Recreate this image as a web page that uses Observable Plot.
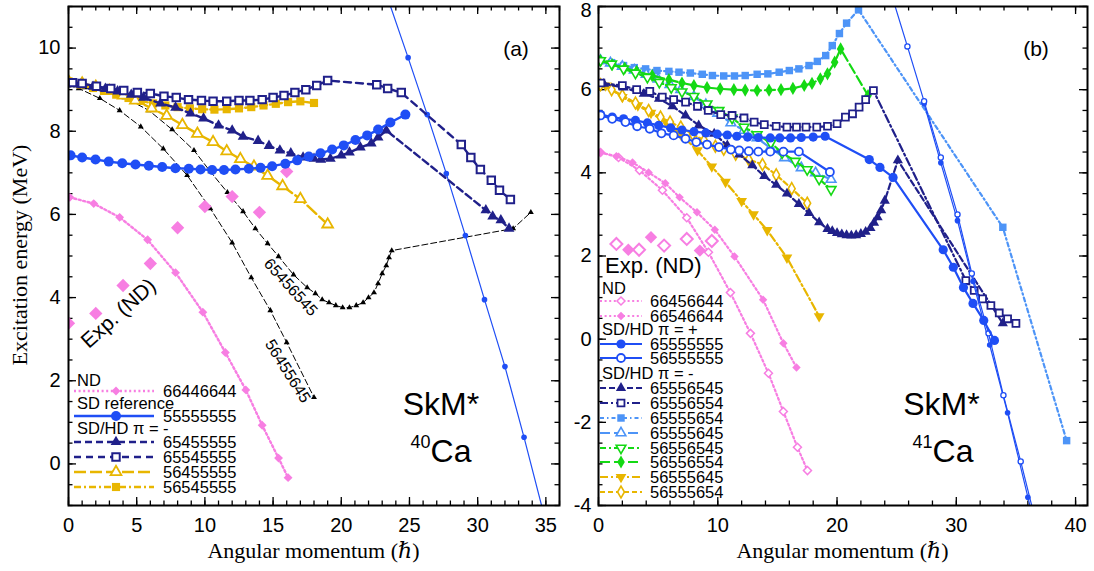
<!DOCTYPE html>
<html>
<head>
<meta charset="utf-8">
<script src="https://cdn.jsdelivr.net/npm/d3@7"></script>
<script src="https://cdn.jsdelivr.net/npm/@observablehq/plot@0.6"></script>
<style>
html,body{margin:0;padding:0;background:#fff;}
#wrap{display:flex;width:1094px;height:571px;overflow:hidden;}
#wrap svg{display:block;flex:none;max-width:none;}
</style>
</head>
<body>
<div id="wrap"></div>
<script>
// ================= Panel (a): 40Ca =================
const A_XTICKS = [0, 5, 10, 15, 20, 25, 30, 35];
const A_YTICKS = [0, 2, 4, 6, 8, 10];

// ND 66446644
const A_ND_J = [0.1, 1.85, 3.75, 5.8, 7.85, 9.85, 11.5, 13.0, 14.2, 15.4, 16.1];
const A_ND_E = [6.41, 6.26, 5.93, 5.39, 4.6, 3.65, 2.68, 1.78, 0.93, 0.14, -0.33];
// Exp. (ND)
const A_EXP_J = [0, 2, 4, 6, 8, 10, 12, 14, 16];
const A_EXP_E = [3.38, 3.62, 4.29, 4.82, 5.68, 6.19, 6.43, 6.05, 7.03];
// SD reference 55555555
const A_SD_J = [0.15, 1.0, 1.98, 2.95, 3.94, 4.91, 5.89, 6.87, 7.84, 8.82, 9.68, 10.53, 11.4, 12.24, 13.22, 14.08, 14.93, 15.9, 16.77, 17.62, 18.48, 19.33, 20.18, 21.04, 21.9, 22.7, 23.6, 24.7];
const A_SD_E = [7.42, 7.37, 7.32, 7.27, 7.23, 7.2, 7.17, 7.14, 7.11, 7.1, 7.08, 7.07, 7.07, 7.08, 7.1, 7.12, 7.16, 7.22, 7.3, 7.39, 7.47, 7.56, 7.66, 7.79, 7.9, 8.04, 8.21, 8.4];
// SD crossing branch (thin)
const A_SDX_J = [23.3, 24.9, 26.3, 27.7, 29.1, 30.5, 32.0, 33.4, 35.0];
const A_SDX_E = [11.3, 9.77, 8.4, 6.98, 5.49, 3.95, 2.34, 0.64, -1.4];
// 65455555
const A_T_J = [0, 0.9, 1.8, 2.7, 3.6, 4.6, 5.5, 6.75, 7.85, 8.95, 9.9, 11.0, 12.0, 12.8, 13.9, 14.7, 15.5, 16.3, 17.2, 18.0, 18.5, 19.2, 20.0, 20.6, 21.4, 22.2, 22.7, 23.3, 30.6, 31.1, 31.7, 32.3];
const A_T_E = [9.15, 9.12, 9.07, 9.02, 8.96, 8.88, 8.81, 8.67, 8.57, 8.43, 8.31, 8.14, 8.02, 7.87, 7.77, 7.65, 7.54, 7.47, 7.37, 7.34, 7.32, 7.34, 7.42, 7.49, 7.61, 7.71, 7.85, 8.02, 6.1, 5.95, 5.86, 5.66];
// 65545555
const A_S_J = [0.3, 1.0, 2.05, 3.1, 4.05, 5.05, 6.0, 7.0, 7.9, 8.8, 9.75, 10.6, 11.6, 12.5, 13.3, 14.2, 15.0, 15.8, 16.6, 17.4, 18.2, 19.0, 22.6, 23.4, 24.4, 28.8, 29.5, 30.2, 31.0, 31.6, 32.4];
const A_S_E = [9.17, 9.15, 9.08, 9.03, 8.98, 8.93, 8.91, 8.84, 8.81, 8.76, 8.74, 8.72, 8.72, 8.74, 8.74, 8.76, 8.81, 8.86, 8.93, 9.0, 9.1, 9.22, 9.12, 9.03, 8.93, 7.68, 7.37, 7.08, 6.82, 6.58, 6.36];
// 56455555
const A_OT_J = [0, 1.0, 2.0, 3.0, 4.0, 4.9, 6.1, 7.2, 8.35, 9.45, 10.6, 11.6, 12.6, 13.6, 14.6, 15.7, 17.0, 19.0];
const A_OT_E = [9.2, 9.15, 9.07, 8.97, 8.86, 8.74, 8.55, 8.37, 8.15, 7.94, 7.74, 7.52, 7.33, 7.15, 6.93, 6.68, 6.37, 5.76];
// 56545555
const A_FS_J = [0, 0.9, 1.8, 2.6, 3.5, 4.4, 5.3, 6.2, 7.1, 8.0, 8.9, 9.8, 10.7, 11.6, 12.5, 13.4, 14.3, 15.2, 16.1, 17.0, 18.0];
const A_FS_E = [9.2, 9.12, 9.04, 8.97, 8.88, 8.8, 8.73, 8.67, 8.62, 8.58, 8.55, 8.53, 8.52, 8.53, 8.55, 8.58, 8.62, 8.66, 8.7, 8.72, 8.68];
// 56455645 (black)
const A_BL1_J = [0, 0.75, 2.3, 3.75, 5.3, 6.95, 8.7, 10.4, 12.0, 13.4, 14.8, 16.0, 18.0];
const A_BL1_E = [9.1, 9.03, 8.79, 8.5, 8.11, 7.58, 6.94, 6.14, 5.32, 4.48, 3.69, 2.92, 1.6];
// 65456545 (black)
const A_BL2_J = [0, 1.2, 2.6, 4.1, 5.9, 7.6, 9.2, 10.4, 11.65, 12.8, 13.7, 14.6, 15.4, 16.5, 17.5, 18.1, 18.6, 19.1, 19.6, 20.1, 20.6, 21.1, 21.6, 22.0, 22.4, 22.7, 23.0, 23.3, 23.5, 23.7, 32.6, 33.9];
const A_BL2_E = [9.1, 9.05, 8.95, 8.81, 8.5, 8.04, 7.54, 7.03, 6.53, 6.07, 5.66, 5.3, 4.99, 4.55, 4.24, 4.1, 3.95, 3.88, 3.81, 3.76, 3.76, 3.81, 3.88, 4.0, 4.12, 4.34, 4.58, 4.77, 4.96, 5.13, 5.66, 6.05];

// ================= Panel (b): 41Ca =================
const B_XTICKS = [0, 10, 20, 30, 40];
const B_YTICKS = [-4, -2, 0, 2, 4, 6];
const B_YTOP = [8];

const B_ND1_J = [0.17, 1.68, 3.44, 5.36, 7.4, 9.22, 11.06, 12.74, 14.25, 15.5, 16.68, 17.52];
const B_ND1_E = [4.49, 4.37, 4.06, 3.58, 2.92, 2.09, 1.12, 0.14, -0.82, -1.74, -2.6, -3.16];
const B_ND2_J = [0.17, 1.5, 2.85, 4.2, 5.6, 6.8, 8.26, 9.75, 11.4, 13.8, 15.5, 16.6];
const B_ND2_E = [4.49, 4.4, 4.25, 4.01, 3.75, 3.41, 3.05, 2.63, 1.99, 0.95, -0.1, -0.68];
const B_EXPO_J = [1.5, 3.4, 5.5, 7.4, 9.5];
const B_EXPO_E = [2.29, 2.15, 2.25, 2.41, 2.36];
const B_EXPF_J = [2.5, 4.4, 8.5];
const B_EXPF_E = [2.15, 2.45, 2.13];
// 65555555
const B_P1_J = [0.17, 1.15, 2.1, 3.1, 4.1, 5.05, 6.05, 7.0, 8.0, 9.0, 9.95, 10.8, 11.6, 12.5, 13.4, 14.4, 15.2, 16.1, 17.0, 18.0, 19.0, 22.7, 23.6, 24.7, 28.9, 29.75, 30.6, 31.4, 32.3, 33.2];
const B_P1_E = [5.4, 5.34, 5.3, 5.26, 5.2, 5.14, 5.08, 5.03, 4.99, 4.96, 4.93, 4.91, 4.88, 4.86, 4.85, 4.84, 4.84, 4.84, 4.85, 4.86, 4.88, 4.32, 4.13, 3.89, 2.15, 1.73, 1.24, 0.86, 0.45, -0.03];
// 56555555
const B_P2_J = [0.17, 1.15, 2.26, 3.24, 4.3, 5.28, 6.3, 7.3, 8.2, 9.1, 10.1, 11.1, 11.8, 12.6, 13.4, 14.4, 15.5, 16.8, 19.4];
const B_P2_E = [5.38, 5.3, 5.22, 5.12, 5.06, 4.95, 4.9, 4.82, 4.74, 4.68, 4.62, 4.56, 4.54, 4.52, 4.51, 4.51, 4.51, 4.51, 4.02];
// crossing branches (thin)
const B_XO_J = [24.5, 25.9, 27.3, 28.7, 30.1, 31.3, 32.7, 33.95, 35.4, 36.8];
const B_XO_E = [8.35, 7.04, 5.72, 4.37, 3.0, 1.58, 0.14, -1.35, -2.94, -4.55];
const B_XF_J = [27.3, 28.7, 30.1, 31.4, 32.8, 34.3, 36.0, 36.6];
const B_XF_E = [5.66, 4.24, 2.85, 1.39, -0.14, -1.77, -3.8, -4.5];
// 65556545
const B_N1_J = [0.45, 2.1, 3.8, 5.07, 6.2, 7.3, 8.4, 9.7, 10.8, 11.8, 12.9, 13.9, 14.9, 15.8, 16.8, 17.65, 18.5, 19.2, 19.6, 20.0, 20.4, 20.8, 21.2, 21.6, 22.0, 22.4, 22.8, 23.1, 23.4, 23.7, 24.0, 25.1, 33.9];
const B_N1_E = [6.14, 6.05, 5.9, 5.78, 5.6, 5.38, 5.14, 4.94, 4.66, 4.44, 4.18, 3.92, 3.71, 3.5, 3.25, 3.03, 2.81, 2.65, 2.6, 2.55, 2.52, 2.5, 2.49, 2.5, 2.53, 2.58, 2.67, 2.8, 2.93, 3.1, 3.33, 4.3, 0.38];
// 65556554
const B_N2_J = [0.2, 2.0, 3.2, 4.3, 5.35, 6.3, 7.3, 8.3, 9.2, 10.25, 11.2, 12.2, 13.05, 13.9, 14.9, 15.8, 16.6, 17.4, 18.3, 19.2, 20.0, 20.7, 21.3, 21.85, 22.4, 23.05, 30.8, 31.5, 32.2, 32.9, 33.6, 34.3, 35.0];
const B_N2_E = [6.16, 6.1, 6.0, 5.96, 5.82, 5.76, 5.7, 5.6, 5.5, 5.4, 5.38, 5.32, 5.22, 5.16, 5.12, 5.1, 5.1, 5.1, 5.1, 5.12, 5.18, 5.34, 5.42, 5.58, 5.76, 5.98, 1.41, 1.17, 0.97, 0.81, 0.63, 0.49, 0.38];
// 65555654
const B_L1_J = [0.17, 1.1, 2.1, 3.0, 3.95, 4.9, 5.9, 6.75, 7.7, 8.7, 9.55, 10.5, 11.4, 12.3, 13.3, 14.2, 15.15, 16.0, 16.8, 17.65, 18.35, 19.05, 19.6, 20.2, 20.8, 21.8, 33.9, 39.25];
const B_L1_E = [6.7, 6.65, 6.58, 6.53, 6.5, 6.46, 6.44, 6.42, 6.4, 6.37, 6.34, 6.33, 6.33, 6.34, 6.37, 6.38, 6.42, 6.46, 6.5, 6.58, 6.68, 6.82, 7.06, 7.35, 7.6, 7.92, 2.69, -2.44];
// 65555645
const B_L2_J = [0.17, 1.0, 2.0, 3.0, 4.0, 5.0, 6.0, 6.9, 8.0, 9.0, 10.0, 11.1, 12.2, 13.3, 14.4, 15.6, 17.0, 18.2, 19.5];
const B_L2_E = [6.7, 6.64, 6.56, 6.47, 6.37, 6.25, 6.12, 6.0, 5.83, 5.64, 5.43, 5.2, 5.02, 4.84, 4.6, 4.36, 4.12, 4.0, 3.84];
// 56556545
const B_G1_J = [0.17, 1.1, 2.1, 3.1, 4.1, 5.1, 6.1, 7.0, 8.0, 9.1, 10.1, 11.2, 12.2, 13.3, 14.45, 15.4, 16.5, 17.5, 18.5, 19.5];
const B_G1_E = [6.7, 6.62, 6.5, 6.4, 6.3, 6.18, 6.05, 5.95, 5.84, 5.66, 5.5, 5.32, 5.1, 4.92, 4.72, 4.48, 4.28, 4.08, 3.85, 3.6];
// 56556554
const B_G2_J = [0.17, 1.15, 2.2, 3.2, 4.5, 5.9, 7.0, 8.0, 9.1, 10.2, 11.35, 12.3, 13.3, 14.3, 15.3, 16.3, 17.25, 17.9, 18.6, 19.2, 19.8, 20.3, 22.6];
const B_G2_E = [6.7, 6.6, 6.52, 6.44, 6.34, 6.24, 6.16, 6.1, 6.05, 6.02, 6.0, 5.99, 5.98, 5.99, 6.0, 6.03, 6.1, 6.15, 6.26, 6.38, 6.66, 6.98, 5.86];
// 56555645
const B_Y1_J = [0.6, 2.0, 3.3, 4.4, 5.7, 6.9, 8.3, 9.5, 10.65, 12.0, 13.0, 14.15, 15.8, 18.5];
const B_Y1_E = [6.1, 5.82, 5.62, 5.44, 5.2, 4.92, 4.54, 4.15, 3.78, 3.32, 3.0, 2.62, 1.96, 0.55];
// 56555654
const B_Y2_J = [0.17, 1.1, 2.0, 3.1, 4.2, 5.2, 6.0, 6.9, 7.9, 8.85, 9.8, 10.5, 11.5, 12.6, 13.75, 14.9, 16.2, 17.5];
const B_Y2_E = [6.12, 6.0, 5.86, 5.68, 5.5, 5.34, 5.22, 5.1, 4.93, 4.78, 4.64, 4.57, 4.45, 4.32, 4.2, 3.95, 3.62, 3.27];

// ================= styling =================
const C = {pink: "#f77ee2", blue: "#1f4ef5", navy: "#20208a", gold: "#e8b600", lblue: "#4d94f7", green: "#14d914", black: "#000"};
const triDown = {draw(ctx, size) {
  const y = -Math.sqrt(size / (Math.sqrt(3) * 3));
  ctx.moveTo(0, -y * 2); ctx.lineTo(-Math.sqrt(3) * y, y); ctx.lineTo(Math.sqrt(3) * y, y); ctx.closePath();
}};
const SANS = "'Liberation Sans', Arial, Helvetica, sans-serif";
const SERIF = "'Liberation Serif', 'Times New Roman', 'DejaVu Serif', serif";
const fmt = d => (d < 0 ? "-" + (-d) : String(d));

function seriesMarks(s) {
  const data = s.J.map((x, i) => ({x, y: s.E[i]}));
  const out = [];
  if (s.line !== false) {
    const o = {x: "x", y: "y", stroke: s.color, strokeWidth: s.width, clip: true};
    if (s.dash) o.strokeDasharray = s.dash;
    out.push(Plot.line(data, o));
  }
  if (s.sym) {
    out.push(Plot.dot(data, {x: "x", y: "y", symbol: s.sym, r: s.r,
      fill: s.open ? "white" : s.color, stroke: s.open ? s.color : "none",
      strokeWidth: s.open ? (s.sw || 1.6) : 0, clip: true}));
  }
  return out;
}

function tickMarks(xd, yd, W, H, xMaj, xMin, yMaj, yMin) {
  const ky = (yd[1] - yd[0]) / H, kx = (xd[1] - xd[0]) / W;
  const L = 8, l = 4.5;
  const o = {stroke: "black", strokeWidth: 1.3};
  return [
    Plot.ruleX(xMaj, {...o, x: d => d, y1: yd[0], y2: yd[0] + L * ky}),
    Plot.ruleX(xMaj, {...o, x: d => d, y1: yd[1], y2: yd[1] - L * ky}),
    Plot.ruleX(xMin, {...o, x: d => d, y1: yd[0], y2: yd[0] + l * ky}),
    Plot.ruleX(xMin, {...o, x: d => d, y1: yd[1], y2: yd[1] - l * ky}),
    Plot.ruleY(yMaj, {...o, y: d => d, x1: xd[0], x2: xd[0] + L * kx}),
    Plot.ruleY(yMaj, {...o, y: d => d, x1: xd[1], x2: xd[1] - L * kx}),
    Plot.ruleY(yMin, {...o, y: d => d, x1: xd[0], x2: xd[0] + l * kx}),
    Plot.ruleY(yMin, {...o, y: d => d, x1: xd[1], x2: xd[1] - l * kx})
  ];
}

function label(g, x, y, s, fs, anchor, family) {
  return g.append("text").attr("x", x).attr("y", y).attr("text-anchor", anchor || "start")
    .attr("font-family", family || SANS).attr("font-size", fs).attr("fill", "black").text(s);
}
function legendRow(g, s, x0, x1, xm, xl, y, text, fs) {
  const ln = g.append("line").attr("x1", x0).attr("x2", x1).attr("y1", y).attr("y2", y)
    .attr("stroke", s.color).attr("stroke-width", s.width);
  if (s.dash) ln.attr("stroke-dasharray", s.dash);
  g.append("path").attr("transform", `translate(${xm},${y})`)
    .attr("d", d3.symbol(s.sym, Math.PI * s.r * s.r)())
    .attr("fill", s.open ? "white" : s.color)
    .attr("stroke", s.open ? s.color : "none")
    .attr("stroke-width", s.open ? (s.sw || 1.6) : 0);
  label(g, xl, y, text, fs).attr("dy", "0.36em");
}
function header(g, x, y, text, fs) {
  label(g, x, y, text, fs).attr("dy", "0.36em");
}

// ---------- series specs panel (a) ----------
const sA = {
  nd:  {J: A_ND_J, E: A_ND_E, color: C.pink, width: 2.4, dash: "2,2.6", sym: d3.symbolDiamond2, r: 4},
  exp: {J: A_EXP_J, E: A_EXP_E, color: C.pink, line: false, sym: d3.symbolDiamond2, r: 6},
  sd:  {J: A_SD_J, E: A_SD_E, color: C.blue, width: 2.4, sym: d3.symbolCircle, r: 5},
  sdx: {J: A_SDX_J, E: A_SDX_E, color: C.blue, width: 1.2, sym: d3.symbolCircle, r: 2.8},
  t:   {J: A_T_J, E: A_T_E, color: C.navy, width: 2.4, dash: "7,4", sym: d3.symbolTriangle, r: 4},
  s:   {J: A_S_J, E: A_S_E, color: C.navy, width: 2.4, dash: "7,5", sym: d3.symbolSquare, r: 4.2, open: true, sw: 2},
  ot:  {J: A_OT_J, E: A_OT_E, color: C.gold, width: 2.4, dash: "12,4", sym: d3.symbolTriangle, r: 4, open: true, sw: 1.8},
  fs:  {J: A_FS_J, E: A_FS_E, color: C.gold, width: 2.4, dash: "7,3,2,3", sym: d3.symbolSquare, r: 4.6},
  bl1: {J: A_BL1_J, E: A_BL1_E, color: C.black, width: 1, dash: "6,3", sym: d3.symbolTriangle, r: 2.2},
  bl2: {J: A_BL2_J, E: A_BL2_E, color: C.black, width: 1, dash: "6,3", sym: d3.symbolTriangle, r: 2.2}
};

const AX = [0, 36], AY = [-1, 11];
const svgA = Plot.plot({
  width: 565, height: 571, marginLeft: 68, marginRight: 6, marginTop: 6, marginBottom: 66,
  x: {domain: AX}, y: {domain: AY},
  style: {fontFamily: SANS, fontSize: "20px", color: "black", background: "white", overflow: "visible"},
  marks: [
    ...tickMarks(AX, AY, 491, 499, A_XTICKS, d3.range(0, 37, 1), A_YTICKS, d3.range(-1, 11.01, 0.5)),
    Plot.axisX({ticks: A_XTICKS, tickSize: 0, tickPadding: 12, label: null, fontSize: 20, tickFormat: fmt}),
    Plot.axisY({ticks: A_YTICKS, tickSize: 0, tickPadding: 8, label: null, fontSize: 20, tickFormat: fmt}),
    ...seriesMarks(sA.bl1), ...seriesMarks(sA.bl2),
    ...seriesMarks(sA.nd), ...seriesMarks(sA.exp),
    ...seriesMarks(sA.fs), ...seriesMarks(sA.ot),
    ...seriesMarks(sA.sdx),
    ...seriesMarks(sA.t), ...seriesMarks(sA.sd), ...seriesMarks(sA.s),
    Plot.frame({stroke: "black", strokeWidth: 2})
  ]
});
{
  const g = d3.select(svgA).append("g").attr("text-anchor", "start");
  header(g, 77, 380, "ND", 16.5);
  legendRow(g, sA.nd, 74, 154, 116, 163, 391, "66446644", 16.5);
  header(g, 77, 403, "SD reference", 16.5);
  legendRow(g, sA.sd, 74, 154, 116, 163, 416, "55555555", 16.5);
  header(g, 77, 428, "SD/HD π = -", 16.5);
  legendRow(g, sA.t, 74, 154, 116, 163, 442, "65455555", 16.5);
  legendRow(g, sA.s, 74, 154, 116, 163, 457, "65545555", 16.5);
  legendRow(g, sA.ot, 74, 154, 116, 163, 472, "56455555", 16.5);
  legendRow(g, sA.fs, 74, 154, 116, 163, 487, "56545555", 16.5);
  label(g, 0, 0, "Exp. (ND)", 21, "middle").attr("transform", "translate(118,313) rotate(-42)").attr("dy", "0.35em");
  label(g, 0, 0, "65456545", 16, "middle").attr("transform", "translate(291,287) rotate(48)").attr("dy", "0.35em");
  label(g, 0, 0, "56455645", 16, "middle").attr("transform", "translate(288,371) rotate(58)").attr("dy", "0.35em");
  label(g, 516, 56, "(a)", 21, "middle");
  label(g, 441, 415, "SkM*", 32, "middle");
  const t = g.append("text").attr("x", 441).attr("y", 462).attr("text-anchor", "middle")
    .attr("font-family", SANS).attr("font-size", 32).attr("fill", "black");
  t.append("tspan").attr("font-size", 18).attr("dy", -14).text("40");
  t.append("tspan").attr("dy", 14).text("Ca");
  label(g, 0, 0, "Excitation energy (MeV)", 22, "middle", SERIF).attr("transform", "translate(27,255) rotate(-90)");
  label(g, 313.5, 558, "Angular momentum (\u210F)", 22, "middle", SERIF);
}

// ---------- series specs panel (b) ----------
const sB = {
  nd1: {J: B_ND1_J, E: B_ND1_E, color: C.pink, width: 2.2, dash: "2,2.6", sym: d3.symbolDiamond2, r: 3.6, open: true, sw: 1.5},
  nd2: {J: B_ND2_J, E: B_ND2_E, color: C.pink, width: 2.2, dash: "2,2.6", sym: d3.symbolDiamond2, r: 3.8},
  expo: {J: B_EXPO_J, E: B_EXPO_E, color: C.pink, line: false, sym: d3.symbolDiamond2, r: 5.4, open: true, sw: 2},
  expf: {J: B_EXPF_J, E: B_EXPF_E, color: C.pink, line: false, sym: d3.symbolDiamond2, r: 5.6},
  p1: {J: B_P1_J, E: B_P1_E, color: C.blue, width: 2.2, sym: d3.symbolCircle, r: 4.6},
  p2: {J: B_P2_J, E: B_P2_E, color: C.blue, width: 2.2, sym: d3.symbolCircle, r: 4, open: true, sw: 1.8},
  xo: {J: B_XO_J, E: B_XO_E, color: C.blue, width: 1.2, sym: d3.symbolCircle, r: 2.6, open: true, sw: 1.3},
  xf: {J: B_XF_J, E: B_XF_E, color: C.blue, width: 1.2, sym: d3.symbolCircle, r: 2.8},
  n1: {J: B_N1_J, E: B_N1_E, color: C.navy, width: 2.2, dash: "6,3", sym: d3.symbolTriangle, r: 3.8},
  n2: {J: B_N2_J, E: B_N2_E, color: C.navy, width: 2.2, dash: "8,3,2,3", sym: d3.symbolSquare, r: 3.9, open: true, sw: 1.8},
  l1: {J: B_L1_J, E: B_L1_E, color: C.lblue, width: 2.2, dash: "4,3,1.5,3", sym: d3.symbolSquare, r: 4.2},
  l2: {J: B_L2_J, E: B_L2_E, color: C.lblue, width: 2.2, dash: "10,4", sym: d3.symbolTriangle, r: 3.6, open: true, sw: 1.6},
  g1: {J: B_G1_J, E: B_G1_E, color: C.green, width: 2.2, dash: "6,3,2,3", sym: triDown, r: 3.6, open: true, sw: 1.6},
  g2: {J: B_G2_J, E: B_G2_E, color: C.green, width: 2.2, dash: "10,4", sym: d3.symbolDiamond, r: 4},
  y1: {J: B_Y1_J, E: B_Y1_E, color: C.gold, width: 2.2, dash: "8,3,2,3", sym: triDown, r: 4},
  y2: {J: B_Y2_J, E: B_Y2_E, color: C.gold, width: 2.2, dash: "5,3", sym: d3.symbolDiamond, r: 3.6, open: true, sw: 1.6}
};

const BX = [0, 41], BY = [-4, 8];
const svgB = Plot.plot({
  width: 529, height: 571, marginLeft: 33, marginRight: 7, marginTop: 6, marginBottom: 66,
  x: {domain: BX}, y: {domain: BY},
  style: {fontFamily: SANS, fontSize: "20px", color: "black", background: "white", overflow: "visible"},
  marks: [
    ...tickMarks(BX, BY, 489, 499, B_XTICKS, d3.range(0, 41.01, 2), B_YTICKS.concat(B_YTOP), d3.range(-4, 8.01, 0.5)),
    Plot.axisX({ticks: B_XTICKS, tickSize: 0, tickPadding: 12, label: null, fontSize: 20, tickFormat: fmt}),
    Plot.axisY({ticks: B_YTICKS, tickSize: 0, tickPadding: 7, label: null, fontSize: 20, tickFormat: fmt}),
    Plot.axisY({ticks: B_YTOP, tickSize: 0, tickPadding: 7, label: null, fontSize: 20, tickFormat: fmt, dy: 4}),
    ...seriesMarks(sB.nd1), ...seriesMarks(sB.nd2), ...seriesMarks(sB.expo), ...seriesMarks(sB.expf),
    ...seriesMarks(sB.l1), ...seriesMarks(sB.l2),
    ...seriesMarks(sB.g2), ...seriesMarks(sB.g1),
    ...seriesMarks(sB.y1), ...seriesMarks(sB.y2),
    ...seriesMarks(sB.n1), ...seriesMarks(sB.n2),
    ...seriesMarks(sB.xf), ...seriesMarks(sB.xo),
    ...seriesMarks(sB.p1), ...seriesMarks(sB.p2),
    Plot.frame({stroke: "black", strokeWidth: 2})
  ]
});
{
  const g = d3.select(svgB).append("g").attr("text-anchor", "start");
  label(g, 40, 273, "Exp. (ND)", 22);
  const x0 = 35, x1 = 77, xm = 56, xl = 85, fs = 16.5;
  header(g, 37, 288, "ND", fs);
  legendRow(g, sB.nd1, x0, x1, xm, xl, 301, "66456644", fs);
  legendRow(g, sB.nd2, x0, x1, xm, xl, 316, "66546644", fs);
  header(g, 37, 329, "SD/HD π = +", fs);
  legendRow(g, sB.p1, x0, x1, xm, xl, 344, "65555555", fs);
  legendRow(g, sB.p2, x0, x1, xm, xl, 358, "56555555", fs);
  header(g, 37, 373, "SD/HD π = -", fs);
  legendRow(g, sB.n1, x0, x1, xm, xl, 388, "65556545", fs);
  legendRow(g, sB.n2, x0, x1, xm, xl, 403, "65556554", fs);
  legendRow(g, sB.l1, x0, x1, xm, xl, 418, "65555654", fs);
  legendRow(g, sB.l2, x0, x1, xm, xl, 433, "65555645", fs);
  legendRow(g, sB.g1, x0, x1, xm, xl, 448, "56556545", fs);
  legendRow(g, sB.g2, x0, x1, xm, xl, 462, "56556554", fs);
  legendRow(g, sB.y1, x0, x1, xm, xl, 477, "56555645", fs);
  legendRow(g, sB.y2, x0, x1, xm, xl, 492, "56555654", fs);
  label(g, 471, 56, "(b)", 21, "middle");
  label(g, 376.5, 415, "SkM*", 32, "middle");
  const t = g.append("text").attr("x", 378).attr("y", 462).attr("text-anchor", "middle")
    .attr("font-family", SANS).attr("font-size", 32).attr("fill", "black");
  t.append("tspan").attr("font-size", 18).attr("dy", -14).text("41");
  t.append("tspan").attr("dy", 14).text("Ca");
  label(g, 277.5, 558, "Angular momentum (\u210F)", 22, "middle", SERIF);
}

document.getElementById("wrap").append(svgA, svgB);
</script>
</body>
</html>
